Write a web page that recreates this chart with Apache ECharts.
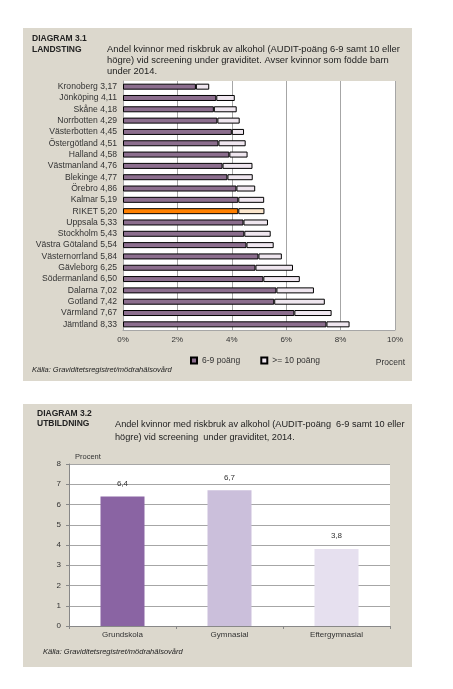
<!DOCTYPE html>
<html><head><meta charset="utf-8">
<script src="https://cdn.jsdelivr.net/npm/echarts@6/dist/echarts.min.js"></script>
<style>html,body{margin:0;padding:0;background:#fff}#c{width:453px;height:689px}</style>
</head><body><div id="c"></div>
<script>
// Diagram 3.1 data
const regions = ['Kronoberg','Jönköping','Skåne','Norrbotten','Västerbotten','Östergötland','Halland','Västmanland','Blekinge','Örebro','Kalmar','RIKET','Uppsala','Stockholm','Västra Götaland','Västernorrland','Gävleborg','Södermanland','Dalarna','Gotland','Värmland','Jämtland'];
const totals = [3.17,4.11,4.18,4.29,4.45,4.51,4.58,4.76,4.77,4.86,5.19,5.20,5.33,5.43,5.54,5.84,6.25,6.50,7.02,7.42,7.67,8.33];
const moderate = [2.68,3.43,3.34,3.47,4.00,3.51,3.91,3.66,3.84,4.17,4.24,4.24,4.43,4.46,4.54,4.98,4.87,5.16,5.64,5.56,6.30,7.48];
const xTicks = [0,2,4,6,8,10];
// Diagram 3.2 data
const eduCats = ['Grundskola','Gymnasial','Eftergymnasial'];
const eduVals = [6.4,6.7,3.8];

const high = totals.map((t,i)=>+(t-moderate[i]).toFixed(2));
const fmt = v => v.toFixed(2).replace('.',',');
const yLabels = regions.map((r,i)=> r + ' ' + fmt(totals[i]));
const F = 'Liberation Sans, Arial, sans-serif';
const TXT = '#333';
const GRID = '#a6a6a6';

const chart = echarts.init(document.getElementById('c'), null, {renderer:'canvas'});
chart.setOption({
  backgroundColor:'#fff',
  animation:false,
  textStyle:{fontFamily:F},
  graphic:[
    {type:'rect', z:-10, shape:{x:23,y:28,width:389,height:353}, style:{fill:'#dcd8cd'}},
    {type:'rect', z:-10, shape:{x:23,y:404,width:389,height:263}, style:{fill:'#dcd8cd'}},
    {type:'text', left:32, top:33, style:{text:'DIAGRAM 3.1\nLANDSTING', font:'bold 8.5px '+F, fill:'#222', lineHeight:11}},
    {type:'text', left:107, top:44, style:{text:'Andel kvinnor med riskbruk av alkohol (AUDIT-poäng 6-9 samt 10 eller\nhögre) vid screening under graviditet. Avser kvinnor som födde barn\nunder 2014.', font:'9.4px '+F, fill:'#222', lineHeight:11}},
    {type:'text', right:48, top:358, style:{text:'Procent', font:'8.5px '+F, fill:TXT}},
    {type:'text', left:32, top:366, style:{text:'Källa: Graviditetsregistret/mödrahälsovård', font:'italic 7.5px '+F, fill:'#222'}},
    {type:'text', left:37, top:409, style:{text:'DIAGRAM 3.2\nUTBILDNING', font:'bold 8.5px '+F, fill:'#222', lineHeight:10}},
    {type:'text', left:115, top:418, style:{text:'Andel kvinnor med riskbruk av alkohol (AUDIT-poäng  6-9 samt 10 eller\nhögre) vid screening  under graviditet, 2014.', font:'9.2px '+F, fill:'#222', lineHeight:13}},
    {type:'text', left:75, top:453, style:{text:'Procent', font:'7.5px '+F, fill:TXT}},
    {type:'text', left:43, top:648, style:{text:'Källa: Graviditetsregistret/mödrahälsovård', font:'italic 7.5px '+F, fill:'#222'}}
  ],
  legend:[{
    data:['6-9 poäng','>= 10 poäng'],
    left:185, top:351,
    itemWidth:6, itemHeight:6, itemGap:20,
    textStyle:{fontSize:8.5, color:TXT, fontFamily:F},
    icon:'rect'
  }],
  grid:[
    {left:123, right:58, top:81, bottom:359, show:true, backgroundColor:'#fff', borderWidth:0},
    {left:69, right:63, top:464, bottom:63, show:true, backgroundColor:'#fff', borderWidth:0}
  ],
  xAxis:[
    {type:'value', gridIndex:0, min:0, max:10, interval:2,
     axisLabel:{formatter:'{value}%', fontSize:8, color:TXT, margin:6},
     axisLine:{show:true, lineStyle:{color:GRID}},
     axisTick:{show:false},
     splitLine:{show:true, lineStyle:{color:GRID, width:1}}},
    {type:'category', gridIndex:1, data:eduCats,
     axisLabel:{fontSize:8, color:TXT, margin:5},
     axisLine:{show:true, lineStyle:{color:'#888'}},
     axisTick:{show:true, length:3, lineStyle:{color:'#888'}}}
  ],
  yAxis:[
    {type:'category', gridIndex:0, inverse:true, data:yLabels,
     axisLabel:{fontSize:8.6, color:TXT, margin:6, interval:0},
     axisLine:{show:true, lineStyle:{color:GRID}},
     axisTick:{show:false}},
    {type:'value', gridIndex:1, min:0, max:8, interval:1,
     axisLabel:{fontSize:8, color:TXT, margin:8},
     axisLine:{show:true, lineStyle:{color:'#888'}},
     axisTick:{show:true, length:3, lineStyle:{color:'#888'}},
     splitLine:{show:true, lineStyle:{color:GRID}}}
  ],
  series:[
    {name:'6-9 poäng', type:'bar', stack:'a', xAxisIndex:0, yAxisIndex:0, barWidth:6,
     itemStyle:{color:'#8c6e8e', borderColor:'#000', borderWidth:1},
     data: moderate.map((v,i)=> regions[i]==='RIKET' ? {value:v, itemStyle:{color:'#ff8000'}} : v)},
    {name:'>= 10 poäng', type:'bar', stack:'a', xAxisIndex:0, yAxisIndex:0, barWidth:6,
     itemStyle:{color:'#efe6ef', borderColor:'#000', borderWidth:1},
     data: high.map((v,i)=> regions[i]==='RIKET' ? {value:v, itemStyle:{color:'#fbe6cc'}} : v)},
    {name:'Utbildning', type:'bar', xAxisIndex:1, yAxisIndex:1, barWidth:44,
     label:{show:true, position:'top', distance:9, fontSize:8, color:TXT, formatter:p=>String(p.value).replace('.',',')},
     data: eduVals.map((v,i)=>({value:v, itemStyle:{color:['#8a64a3','#cbbfdb','#e6e0ef'][i]}}))}
  ]
});
</script></body></html>
